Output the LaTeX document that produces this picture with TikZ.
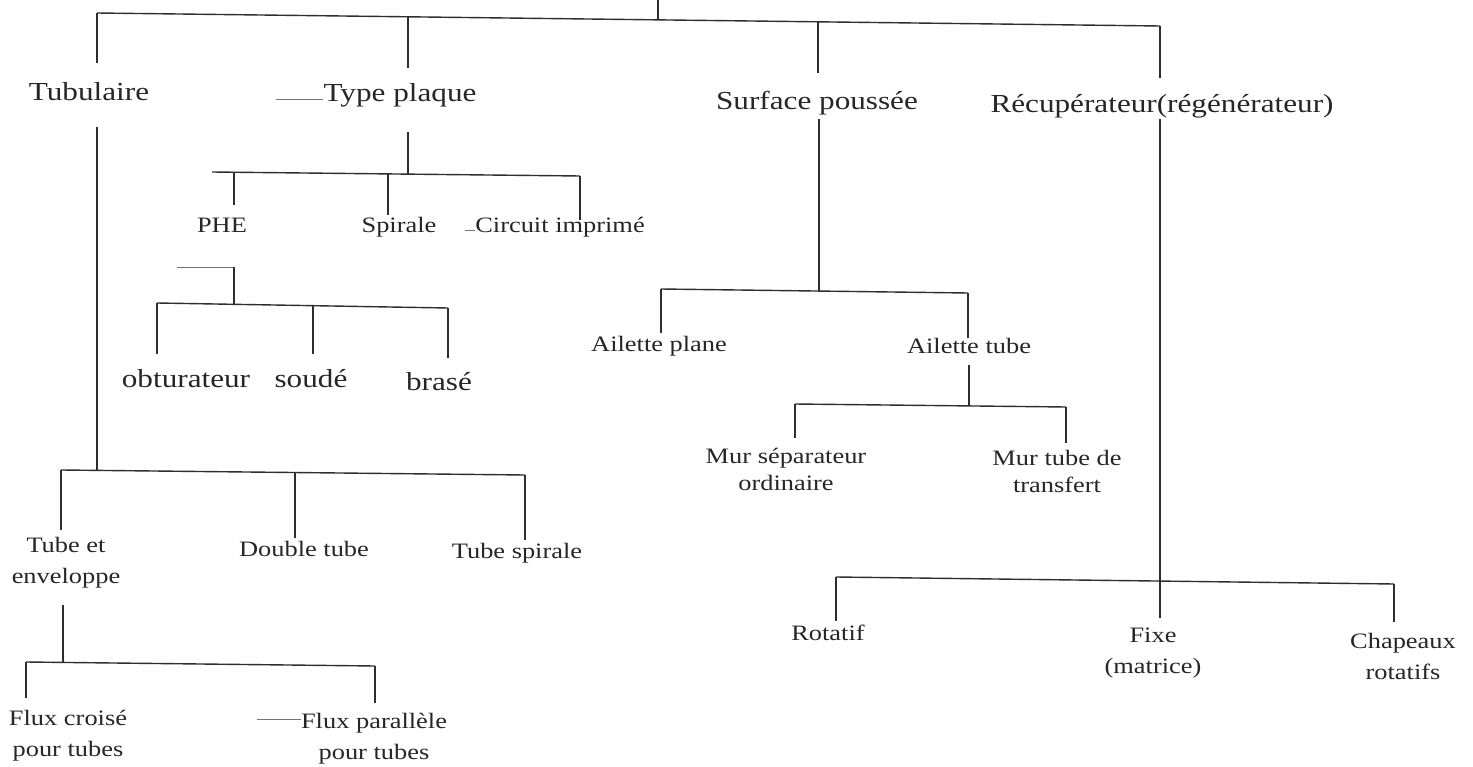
\documentclass[tikz,border=0pt]{standalone}
\usepackage{fontspec}
\setmainfont[FakeStretch=1.2]{Liberation Serif}
\usetikzlibrary{calc}
\begin{document}
\begin{tikzpicture}[x=1pt,y=-1pt,
  ln/.style={line width=1.4pt, draw=black!82},
  leader/.style={line width=0.9pt, draw=black!55},
  big/.style={font=\fontsize{26}{30}\selectfont, text height=0.7em, text depth=0.2em, inner sep=0pt, anchor=base, text=black!85},
  small/.style={font=\fontsize{22}{31}\selectfont, text height=0.7em, text depth=0.2em, inner sep=0pt, anchor=base, text=black!85},
  multi/.style={font=\fontsize{22}{31}\selectfont, inner sep=0pt, anchor=north, align=center, text=black!85},
  multitight/.style={multi, font=\fontsize{22}{27}\selectfont}]
\useasboundingbox[fill=white] (0,0) rectangle (1473,767);

% ---------- nodes ----------
\node[big] (tub) at (89,101) {Tubulaire};
\node[big] (tp) at (400,102) {Type plaque};
\node[big] (sp) at (817,110) {Surface poussée};
\node[big] (rec) at (1162,113) {Récupérateur(régénérateur)};
\node[big] (obt) at (186,387) {obturateur};
\node[big] (sou) at (311,387) {soudé};
\node[big] (bra) at (439,390) {brasé};
\node[small] (phe) at (222,233) {PHE};
\node[small] (spi) at (399,233) {Spirale};
\node[small] (cir) at (560,233) {Circuit imprimé};
\node[small] (ap) at (659,352) {Ailette plane};
\node[small] (at) at (969,353) {Ailette tube};
\node[small] (dt) at (304,556) {Double tube};
\node[small] (ts) at (517,558) {Tube spirale};
\node[small] (rot) at (828,640) {Rotatif};
\node[multi] (te) at (66,537) {Tube et\\enveloppe};
\node[multi] (fc) at (68,710) {Flux croisé\\pour tubes};
\node[multi] (fp) at (374,713) {Flux parallèle\\pour tubes};
\node[multitight] (ms) at (786,448) {Mur séparateur\\ordinaire};
\node[multitight] (mt) at (1057,450) {Mur tube de\\transfert};
\node[multi] (fix) at (1153,628) {Fixe\\(matrice)};
\node[multi] (cha) at (1403,633) {Chapeaux\\rotatifs};

% ---------- junctions ----------
\coordinate (root) at (658,0);
\coordinate (jtub) at (97,13);
\coordinate (jtp) at (408,16.8);
\coordinate (jroot) at (658,19.9);
\coordinate (jsp) at (818,21.8);
\coordinate (jrec) at (1160,26);

\coordinate (jtpl) at (212,172);
\coordinate (jphe) at (234,172.2);
\coordinate (jspi) at (388,173.9);
\coordinate (jtp2) at (408,174.1);
\coordinate (jcir) at (580,176);

\coordinate (jstub) at (177,267);
\coordinate (jphetop) at (234,267);
\coordinate (jobt) at (157,303);
\coordinate (jphe2) at (234,304.3);
\coordinate (jsou) at (313,305.7);
\coordinate (jbra) at (448,308);

\coordinate (jte) at (61,470);
\coordinate (jtub2) at (97,470.4);
\coordinate (jdt) at (295,472.5);
\coordinate (jts) at (525,475);

\coordinate (jfc) at (26,662);
\coordinate (jte2) at (63,662.4);
\coordinate (jfp) at (375,666);

\coordinate (jap) at (661,289);
\coordinate (jsp2) at (819,291);
\coordinate (jat) at (968,293);

\coordinate (jms) at (795,404);
\coordinate (jat2) at (969,405.9);
\coordinate (jmt) at (1066,407);

\coordinate (jrot) at (836,577);
\coordinate (jfix) at (1160,581.1);
\coordinate (jcha) at (1394,584);

% ---------- top level ----------
\draw[ln] (jtub) -- (jrec);
\draw[ln] (root) -- (jroot);
\draw[ln] (jtub) -- ($(tub.north -| jtub)+(0,-30.8)$);
\draw[ln] (jtp) -- ($(tp.north -| jtp)+(0,-26.8)$);
\draw[ln] (jsp) -- ($(sp.north -| jsp)+(0,-29.8)$);
\draw[ln] (jrec) -- ($(rec.north -| jrec)+(0,-27.8)$);

% ---------- Type plaque ----------
\draw[leader] (tp.west) -- ++(-47,0);
\draw[ln] ($(tp.south -| jtp2)+(0,27.8)$) -- (jtp2);
\draw[ln] (jtpl) -- (jcir);
\draw[ln] (jphe) -- ($(phe.north -| jphe)+(0,-20.6)$);
\draw[ln] (jspi) -- ($(spi.north -| jspi)+(0,-10.6)$);
\draw[ln] (jcir) -- ($(cir.north -| jcir)+(0,-5.6)$);
\draw[leader] (cir.west) -- ++(-10,0);

% ---------- PHE ----------
\draw[leader] (jstub) -- (jphetop);
\draw[ln] (jphetop) -- (jphe2);
\draw[ln] (jobt) -- (jbra);
\draw[ln] (jobt) -- ($(obt.north -| jobt)+(0,-25.8)$);
\draw[ln] (jsou) -- ($(sou.north -| jsou)+(0,-25.8)$);
\draw[ln] (jbra) -- ($(bra.north -| jbra)+(0,-24.8)$);

% ---------- Tubulaire ----------
\draw[ln] ($(tub.south -| jtub2)+(0,23.8)$) -- (jtub2);
\draw[ln] (jte) -- (jts);
\draw[ln] (jte) -- ($(te.north -| jte)+(0,-7)$);
\draw[ln] (jdt) -- ($(dt.north -| jdt)+(0,-10.6)$);
\draw[ln] (jts) -- ($(ts.north -| jts)+(0,-10.6)$);

% ---------- Tube et enveloppe ----------
\draw[ln] ($(te.south -| jte2)+(0,17)$) -- (jte2);
\draw[ln] (jfc) -- (jfp);
\draw[ln] (jfc) -- ($(fc.north -| jfc)+(0,-12)$);
\draw[ln] (jfp) -- ($(fp.north -| jfp)+(0,-10)$);
\draw[leader] ($(fp.north west)+(0,6)$) -- ++(-44,0);

% ---------- Surface poussee ----------
\draw[ln] ($(sp.south -| jsp2)+(0,6.8)$) -- (jsp2);
\draw[ln] (jap) -- (jat);
\draw[ln] (jap) -- ($(ap.north -| jap)+(0,-11.6)$);
\draw[ln] (jat) -- ($(at.north -| jat)+(0,-7.6)$);
\draw[ln] ($(at.south -| jat2)+(0,9.6)$) -- (jat2);
\draw[ln] (jms) -- (jmt);
\draw[ln] (jms) -- ($(ms.north -| jms)+(0,-10)$);
\draw[ln] (jmt) -- ($(mt.north -| jmt)+(0,-7)$);

% ---------- Recuperateur ----------
\draw[ln] ($(rec.south -| jfix)+(0,3.8)$) -- ($(fix.north -| jfix)+(0,-10)$);
\draw[ln] (jrot) -- (jcha);
\draw[ln] (jrot) -- ($(rot.north -| jrot)+(0,-11.6)$);
\draw[ln] (jcha) -- ($(cha.north -| jcha)+(0,-11)$);
\end{tikzpicture}
\end{document}
